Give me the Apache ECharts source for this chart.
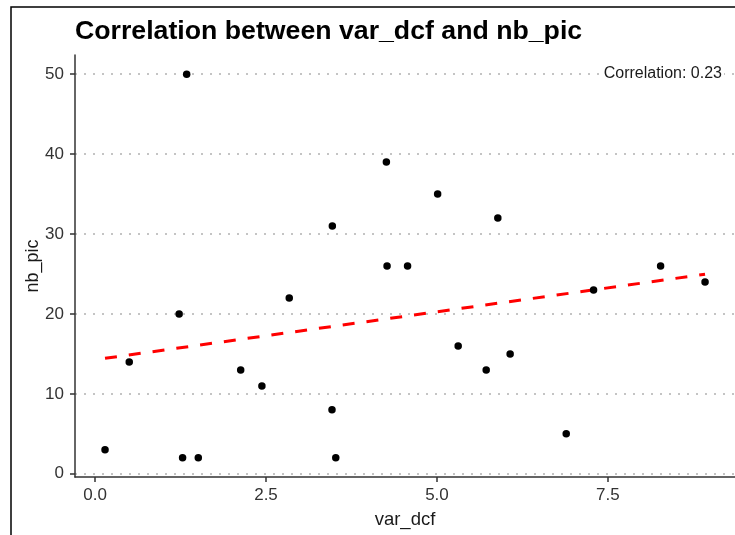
<!DOCTYPE html>
<html>
<head>
<meta charset="utf-8">
<script src="https://cdn.jsdelivr.net/npm/echarts@6/dist/echarts.min.js"></script>
<style>html,body{margin:0;padding:0;background:#fff;}#c{width:735px;height:535px;}</style>
</head>
<body>
<div id="c"></div>
<script>
const xVals = [1.34, 0.146, 0.50, 1.23, 1.28, 1.51, 2.13, 2.44, 2.84, 3.47, 4.26, 5.01, 5.89, 4.27, 4.57, 3.465, 3.52, 5.31, 5.72, 6.07, 6.89, 7.29, 8.27, 8.92];
const yVals = [50, 3, 14, 20, 2, 2, 13, 11, 22, 31, 39, 35, 32, 26, 26, 8, 2, 16, 13, 15, 5, 23, 26, 24];
const fitX = [0.146, 8.92];
const fitY = [14.45, 24.97];
const xTicks = [0, 2.5, 5, 7.5];
const yTicks = [0, 10, 20, 30, 40, 50];
const titleText = 'Correlation between var_dcf and nb_pic';
const corrText = 'Correlation: 0.23';

const points = xVals.map((x, i) => [x, yVals[i]]);
const fitLine = fitX.map((x, i) => [x, fitY[i]]);

const chart = echarts.init(document.getElementById('c'));
chart.setOption({
  animation: false,
  backgroundColor: '#fff',
  title: {
    text: titleText,
    left: 70, top: 13,
    textStyle: {fontFamily: 'Liberation Sans', fontWeight: 'bold', fontSize: 26.7, color: '#000'}
  },
  grid: {left: 75, right: 0, top: 55, bottom: 58, containLabel: false},
  xAxis: {
    type: 'value', min: -0.293, max: 9.358,
    name: 'var_dcf', nameLocation: 'middle', nameGap: 33,
    nameTextStyle: {fontFamily: 'Liberation Sans', fontSize: 18.5, color: '#1a1a1a'},
    axisLine: {show: true, onZero: false, lineStyle: {color: '#333', width: 1.5}},
    axisTick: {show: true, length: 5, customValues: xTicks, lineStyle: {color: '#333', width: 1.5}},
    axisLabel: {customValues: xTicks, margin: 10, fontFamily: 'Liberation Sans', fontSize: 17, color: '#333',
      formatter: v => Number(v).toFixed(1)},
    splitLine: {show: false}
  },
  yAxis: {
    type: 'value', min: -0.4, max: 52.4,
    name: 'nb_pic', nameLocation: 'middle', nameGap: 33, nameMoveOverlap: false,
    nameTextStyle: {fontFamily: 'Liberation Sans', fontSize: 18, color: '#1a1a1a'},
    axisLine: {show: true, onZero: false, lineStyle: {color: '#333', width: 1.5}},
    axisTick: {show: true, length: 5, customValues: yTicks, lineStyle: {color: '#333', width: 1.5}},
    axisLabel: {customValues: yTicks, margin: 11, fontFamily: 'Liberation Sans', fontSize: 17, color: '#333'},
    splitLine: {show: true, lineStyle: {color: '#c4c4c4', width: 2, type: [2, 7]}}
  },
  series: [
    {
      type: 'line', data: fitLine, showSymbol: false, symbol: 'none', z: 3,
      lineStyle: {color: '#ff0000', width: 3, type: [12, 12]}
    },
    {
      type: 'scatter', data: points, symbol: 'circle', symbolSize: 7.5, z: 4,
      itemStyle: {color: '#000', opacity: 1}
    }
  ],
  graphic: [
    {type: 'rect', shape: {x: 11, y: 7, width: 800, height: 600}, style: {fill: 'none', stroke: '#000', lineWidth: 1.5}, z: 100},
    {type: 'text', x: 724, y: 74, z: 50,
      style: {text: corrText, align: 'right', verticalAlign: 'middle', fontFamily: 'Liberation Sans', fontSize: 16, fill: '#1a1a1a', backgroundColor: '#fff', padding: [1, 2]}}
  ]
});
</script>
</body>
</html>
